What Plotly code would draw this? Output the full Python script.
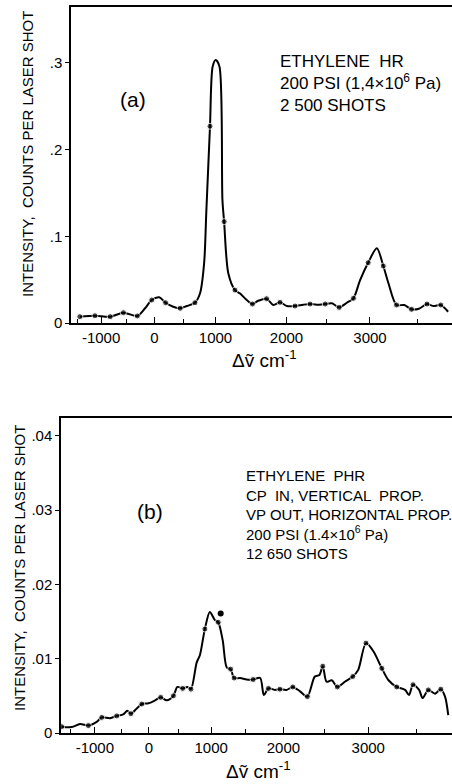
import numpy as np
import plotly.graph_objects as go

# ---------------- data ----------------
# Raman shift (cm^-1) and intensity (counts per laser shot); flag = 1 where a data dot is drawn
shift_a = [-1440, -1125, -820, -565, -305, -165, -45, 85, 195, 325, 440, 550, 680, 760, 825, 860,
           916, 957, 1004, 1060, 1105, 1130, 1193, 1290, 1365, 1460, 1540, 1620, 1735, 1825, 1915,
           2005, 2110, 2215, 2300, 2380, 2485, 2565, 2650, 2740, 2815, 2890, 2980, 3075, 3145, 3200,
           3285, 3365, 3440, 3515, 3595, 3660, 3730, 3800]
inten_a = [0.0073, 0.0084, 0.0073, 0.0119, 0.0081, 0.017, 0.0265, 0.0296, 0.0234, 0.0188, 0.017,
           0.0196, 0.0234, 0.034, 0.069, 0.13, 0.227, 0.296, 0.3035, 0.296, 0.142, 0.117, 0.057,
           0.038, 0.034, 0.0265, 0.0219, 0.0257, 0.028, 0.0208, 0.0238, 0.0196, 0.0196, 0.0211,
           0.0219, 0.0211, 0.0219, 0.0227, 0.018, 0.0234, 0.0285, 0.0496, 0.0696, 0.0862, 0.0658,
           0.0458, 0.0208, 0.0208, 0.0158, 0.0165, 0.0219, 0.0196, 0.0208, 0.013]
dots_a = [1, 1, 1, 1, 1, 0, 1, 0, 1, 0, 1, 0, 1, 0, 0, 0,
          1, 0, 0, 0, 0, 1, 0, 1, 0, 0, 1, 0, 1, 0, 1,
          0, 1, 0, 1, 0, 1, 0, 1, 0, 1, 0, 1, 0, 1, 0,
          1, 0, 1, 0, 1, 0, 1, 0]

shift_b = [-1685, -1470, -1300, -1130, -965, -865, -705, -580, -460, -385, -320, -215, -125, -10,
           105, 200, 300, 410, 475, 560, 635, 690, 780, 830, 905, 980, 1055, 1105, 1170, 1230,
           1285, 1335, 1420, 1510, 1600, 1695, 1745, 1805, 1890, 1955, 2040, 2120, 2210, 2300,
           2390, 2445, 2485, 2530, 2590, 2655, 2740, 2830, 2890, 2975, 3055, 3145, 3215, 3300,
           3385, 3425, 3465, 3525, 3560, 3615, 3680, 3735, 3775, 3805]
inten_b = [0.00085, 0.0008, 0.0012, 0.001, 0.0015, 0.0021, 0.002, 0.0023, 0.0025, 0.003, 0.0026,
           0.0033, 0.0039, 0.004, 0.0044, 0.0048, 0.0044, 0.005, 0.0062, 0.006, 0.0062, 0.0059,
           0.0095, 0.0105, 0.014, 0.0163, 0.0152, 0.0149, 0.0125, 0.0088, 0.0086, 0.0074, 0.0074,
           0.0072, 0.0072, 0.0074, 0.0051, 0.006, 0.0058, 0.0059, 0.0058, 0.0062, 0.0056, 0.0049,
           0.0076, 0.0078, 0.009, 0.0069, 0.0071, 0.0062, 0.0069, 0.0076, 0.0085, 0.0121, 0.011,
           0.0087, 0.0071, 0.0062, 0.0058, 0.0051, 0.0065, 0.0058, 0.0047, 0.0058, 0.0053, 0.0059,
           0.0049, 0.0024]
dots_b = [1, 0, 0, 1, 0, 1, 0, 1, 0, 0, 1, 0, 1, 0,
          0, 1, 0, 1, 0, 1, 0, 1, 0, 0, 1, 0, 0, 1, 0, 0,
          1, 1, 0, 0, 1, 0, 0, 1, 0, 1, 0, 1, 0, 1,
          0, 0, 1, 0, 0, 1, 0, 1, 0, 1, 0, 1, 0, 1,
          0, 0, 1, 0, 0, 1, 0, 1, 0, 0]
extra_dot_b_shift = [1141]
extra_dot_b_inten = [0.0161]

x_major = [-1000, 0, 1000, 2000, 3000]
x_major_text = ["-1000", "0", "1000", "2000", "3000"]
x_minor = [-1500, -500, 500, 1500, 2500, 3500]
y_a_vals = [0, 0.1, 0.2, 0.3]
y_a_text = ["0", ".1", ".2", ".3"]
y_b_vals = [0, 0.01, 0.02, 0.03, 0.04]
y_b_text = ["0", ".01", ".02", ".03", ".04"]

# the abscissa of the original is linear in scattered wavelength (ruby laser)
NU0 = 14400.0
def to_axis(dnu):
    return 1e7 / (NU0 - np.asarray(dnu, dtype=float))

W, H = 452, 784
FONT = "Liberation Sans"
fig = go.Figure()

def add_panel(shift, inten, dots, xa, ya):
    fig.add_trace(go.Scatter(
        x=to_axis(shift), y=inten, mode="lines+markers", xaxis=xa, yaxis=ya,
        line=dict(color="black", width=2, shape="spline", smoothing=0.8),
        marker=dict(color="black", size=[6 if d else 0 for d in dots]),
        showlegend=False, hoverinfo="skip"))

add_panel(shift_a, inten_a, dots_a, "x", "y")
add_panel(shift_b, inten_b, dots_b, "x2", "y2")
fig.add_trace(go.Scatter(x=to_axis(extra_dot_b_shift), y=extra_dot_b_inten, mode="markers",
                         xaxis="x2", yaxis="y2", marker=dict(color="black", size=6),
                         showlegend=False, hoverinfo="skip"))

def xaxis_cfg(domain, rng):
    return dict(domain=domain, range=list(to_axis(rng)), showline=True, linecolor="black",
                linewidth=1.5, mirror=True, showgrid=False, zeroline=False,
                tickmode="array", tickvals=list(to_axis(x_major)), ticktext=x_major_text,
                ticks="inside", ticklen=6, tickwidth=1.2, tickcolor="black",
                minor=dict(tickmode="array", tickvals=list(to_axis(x_minor)), ticks="inside",
                           ticklen=4, tickwidth=1, tickcolor="black"),
                tickfont=dict(family=FONT, size=15, color="black"), automargin=False)

def yaxis_cfg(domain, rng, vals, text):
    return dict(domain=domain, range=rng, showline=True, linecolor="black", linewidth=1.5,
                mirror=False, showgrid=False, zeroline=False, tickmode="array",
                tickvals=vals, ticktext=text, ticks="outside", ticklen=4, tickwidth=1.2,
                tickcolor="black", tickfont=dict(family=FONT, size=15, color="black"),
                automargin=False)

fig.update_layout(
    width=W, height=H, margin=dict(l=0, r=0, t=0, b=0),
    paper_bgcolor="white", plot_bgcolor="white",
    xaxis=xaxis_cfg([71 / W, 1.0], [-1630, 3837]),
    yaxis=yaxis_cfg([1 - 323 / H, 1 - 7 / H], [0, 0.3646], y_a_vals, y_a_text),
    xaxis2=xaxis_cfg([61 / W, 1.0], [-1700, 3840]),
    yaxis2=yaxis_cfg([1 - 733 / H, 1 - 418 / H], [0, 0.0424], y_b_vals, y_b_text),
)
fig.update_layout(yaxis2=dict(anchor="x2"), xaxis2=dict(anchor="y2"))

def ann(text, x, y, size, xanchor="center", yanchor="middle", angle=0, align="left"):
    fig.add_annotation(text=text, x=x / W, y=1 - y / H, xref="paper", yref="paper",
                       showarrow=False, xanchor=xanchor, yanchor=yanchor, align=align,
                       textangle=angle, font=dict(family=FONT, size=size, color="black"))

ytitle = "INTENSITY,  COUNTS PER LASER SHOT"
ann(ytitle, 28, 154, 15, angle=-90)
ann(ytitle, 19, 568, 15, angle=-90)
xtitle = "Δṽ cm<sup>-1</sup>"
ann(xtitle, 264, 359, 19)
ann(xtitle, 258, 770, 19)
ann("(a)", 133, 100, 21)
ann("(b)", 150, 512, 21)
ann("ETHYLENE  HR<br>200 PSI (1,4×10<sup>6</sup> Pa)<br>2 500 SHOTS", 278, 83.5, 17,
    xanchor="left")
ann("ETHYLENE  PHR<br>CP  IN, VERTICAL  PROP.<br>VP OUT, HORIZONTAL PROP.<br>"
    "200 PSI (1.4×10<sup>6</sup> Pa)<br>12 650 SHOTS", 244, 514, 15, xanchor="left")

fig.write_html("out.html")
